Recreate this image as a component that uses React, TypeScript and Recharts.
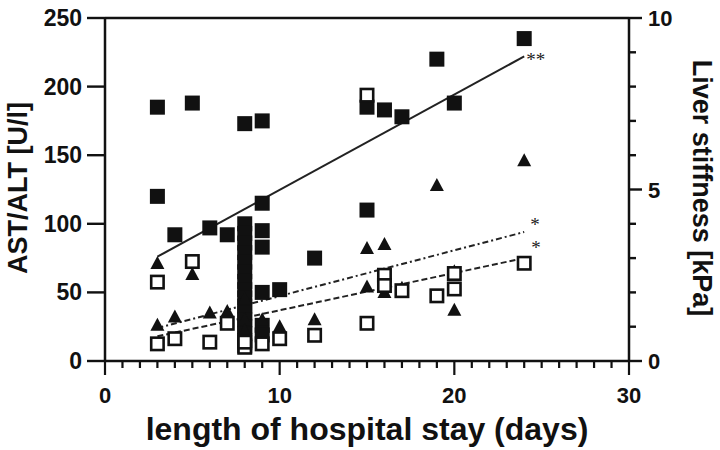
import { ComposedChart, Scatter, Line, XAxis, YAxis, ReferenceLine } from 'recharts'

const FONT = '"Liberation Sans", Arial, sans-serif'
const INK = '#111'

// filled squares: AST [U/l], left axis
const astDays = [3, 3, 4, 5, 6, 7, 8, 8, 8, 8, 8, 8, 8, 8, 8, 8, 8, 8, 8, 8, 8, 8, 8, 9, 9, 9, 9, 9, 9, 9, 10, 12, 15, 15, 16, 17, 19, 20, 24]
const astValues = [185, 120, 92, 188, 97, 92, 173, 100, 93, 86, 79, 72, 65, 58, 52, 46, 40, 35, 30, 25, 20, 15, 11, 175, 115, 95, 83, 50, 26, 19, 52, 75, 185, 110, 183, 178, 220, 188, 235]

// triangles: ALT [U/l], left axis
const altDays = [3, 3, 4, 5, 6, 7, 8, 8, 8, 9, 10, 12, 15, 15, 16, 16, 17, 19, 20, 20, 24]
const altValues = [71, 26, 32, 63, 35, 36, 45, 30, 22, 30, 25, 30, 82, 54, 85, 50, 53, 128, 65, 37, 146]

// open squares: liver stiffness [kPa], right axis
const lsmDays = [3, 3, 4, 5, 6, 7, 8, 8, 9, 10, 12, 15, 15, 16, 16, 17, 19, 20, 20, 24]
const lsmValues = [2.3, 0.5, 0.65, 2.9, 0.55, 1.1, 0.4, 0.55, 0.5, 0.65, 0.75, 7.75, 1.1, 2.5, 2.2, 2.05, 1.9, 2.55, 2.1, 2.85]

// regression lines, start and end
const fitDays = [3, 24]
const astFit = [76, 222]
const altFit = [24, 94]
const lsmFit = [0.72, 3.0]

// axis ticks
const dayTicks = [0, 1, 2, 3, 4, 5, 6, 7, 8, 9, 10, 11, 12, 13, 14, 15, 16, 17, 18, 19, 20, 21, 22, 23, 24, 25, 26, 27, 28, 29, 30]
const dayLabels = [0, 10, 20, 30]
const leftTicks = [0, 50, 100, 150, 200, 250]
const rightTicks = [0, 1, 2, 3, 4, 5, 6, 7, 8, 9, 10]
const rightLabels = [0, 5, 10]

const zip = (xs: number[], ys: number[]) => xs.map((x, i) => ({ x, y: ys[i] }))

const FilledSquare = (p: any) => (
  <rect x={p.cx - 7.5} y={p.cy - 7.5} width={15} height={15} fill={INK} />
)
const Triangle = (p: any) => (
  <polygon
    points={`${p.cx},${p.cy - 7.5} ${p.cx + 7},${p.cy + 5.5} ${p.cx - 7},${p.cy + 5.5}`}
    fill={INK}
  />
)
const OpenSquare = (p: any) => (
  <rect x={p.cx - 6.2} y={p.cy - 6.2} width={12.4} height={12.4} fill="#fff" stroke={INK} strokeWidth={2.6} />
)
// significance stars next to the end of each fit line
const stars = (text: string, dx: number, dy: number) => (p: any) => (
  <text x={p.cx + dx} y={p.cy + dy} fontSize={19} fontFamily='"Liberation Serif", serif' fill="#222">
    {text}
  </text>
)

// x ticks: every day a short tick, every 10 days a long tick with a label
const XTick = (props: any) => {
  const x = Number(props.x)
  const y = Number(props.y)
  const major = dayLabels.includes(props.payload.value)
  return (
    <g>
      <rect x={x - 1.1} y={y} width={2.2} height={major ? 14 : 7} fill={INK} />
      {major && (
        <text x={x} y={y + 42} textAnchor="middle" fontSize={22} fontFamily={FONT} fontWeight={700} fill={INK}>
          {props.payload.value}
        </text>
      )}
    </g>
  )
}

const LeftTick = (props: any) => {
  const x = Number(props.x)
  const y = Number(props.y)
  return (
    <g>
      <rect x={x - 18} y={y - 1.2} width={18} height={2.4} fill={INK} />
      <text x={x - 23} y={y + 8} textAnchor="end" fontSize={23} fontFamily={FONT} fontWeight={700} fill={INK}>
        {props.payload.value}
      </text>
    </g>
  )
}

const RightTick = (props: any) => {
  const x = Number(props.x)
  const y = Number(props.y)
  const major = rightLabels.includes(props.payload.value)
  return (
    <g>
      <rect x={x} y={y - 1.2} width={major ? 13 : 7} height={2.4} fill={INK} />
      {major && (
        <text x={x + 19} y={y + 8} fontSize={22} fontFamily={FONT} fontWeight={700} fill={INK}>
          {props.payload.value}
        </text>
      )}
    </g>
  )
}

const axisLine = { stroke: INK, strokeWidth: 2.5 }

export default function App() {
  const ast = zip(astDays, astValues)
  const alt = zip(altDays, altValues)
  const lsm = zip(lsmDays, lsmValues)
  const astLine = zip(fitDays, astFit)
  const altLine = zip(fitDays, altFit)
  const lsmLine = zip(fitDays, lsmFit)

  return (
    <div style={{ position: 'absolute', left: 0, top: 0, width: 720, height: 450, background: '#fff' }}>
      <ComposedChart width={720} height={450} margin={{ top: 18, right: 0, bottom: 0, left: 0 }}>
        <XAxis
          type="number"
          dataKey="x"
          domain={[0, 30]}
          ticks={dayTicks}
          interval={0}
          height={89}
          tickSize={0}
          tickMargin={0}
          tickLine={false}
          tick={<XTick />}
          axisLine={axisLine}
        />
        <YAxis
          yAxisId="left"
          type="number"
          dataKey="y"
          domain={[0, 250]}
          ticks={leftTicks}
          interval={0}
          width={105}
          tickSize={0}
          tickMargin={0}
          tickLine={false}
          tick={<LeftTick />}
          axisLine={axisLine}
        />
        <YAxis
          yAxisId="right"
          orientation="right"
          type="number"
          dataKey="y"
          domain={[0, 10]}
          ticks={rightTicks}
          interval={0}
          width={91}
          tickSize={0}
          tickMargin={0}
          tickLine={false}
          tick={<RightTick />}
          axisLine={axisLine}
        />
        <ReferenceLine yAxisId="left" y={250} stroke={INK} strokeWidth={2.5} />

        <Line yAxisId="left" data={astLine} dataKey="y" stroke="#222" strokeWidth={2} dot={false} isAnimationActive={false} />
        <Line yAxisId="left" data={altLine} dataKey="y" stroke="#222" strokeWidth={2} strokeDasharray="6 3 2 3" dot={false} isAnimationActive={false} />
        <Line yAxisId="right" data={lsmLine} dataKey="y" stroke="#222" strokeWidth={2} strokeDasharray="6 3" dot={false} isAnimationActive={false} />

        <Scatter yAxisId="left" data={ast} shape={FilledSquare} isAnimationActive={false} />
        <Scatter yAxisId="left" data={alt} shape={Triangle} isAnimationActive={false} />
        <Scatter yAxisId="right" data={lsm} shape={OpenSquare} isAnimationActive={false} />

        <Scatter yAxisId="left" data={astLine.slice(1)} shape={stars('**', 2, 10)} isAnimationActive={false} />
        <Scatter yAxisId="left" data={altLine.slice(1)} shape={stars('*', 6, -1)} isAnimationActive={false} />
        <Scatter yAxisId="right" data={lsmLine.slice(1)} shape={stars('*', 7, -4)} isAnimationActive={false} />
      </ComposedChart>

      <svg width={720} height={450} style={{ position: 'absolute', left: 0, top: 0, pointerEvents: 'none' }}>
        <text x={367} y={440} textAnchor="middle" fontSize={32} fontFamily={FONT} fontWeight={700} fill={INK}>
          length of hospital stay (days)
        </text>
        <text transform="translate(27,188) rotate(-90)" textAnchor="middle" fontSize={27} fontFamily={FONT} fontWeight={700} fill={INK}>
          AST/ALT [U/l]
        </text>
        <text transform="translate(693,188) rotate(90)" textAnchor="middle" fontSize={27} fontFamily={FONT} fontWeight={700} fill={INK}>
          Liver stiffness [kPa]
        </text>
      </svg>
    </div>
  )
}
